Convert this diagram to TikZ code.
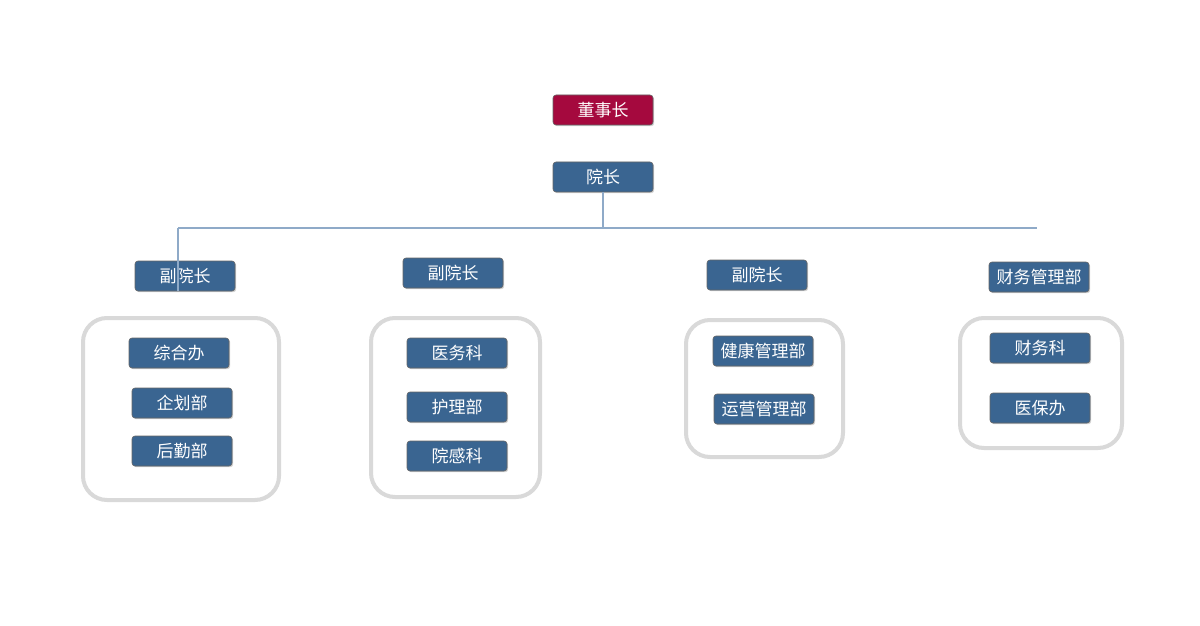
\documentclass[tikz,border=0pt]{standalone}
\usepackage{fontspec}
\setmainfont{Noto Sans CJK SC}
\usetikzlibrary{shadows}
\definecolor{bluebox}{HTML}{3A6591}
\definecolor{redbox}{HTML}{A5093E}
\definecolor{linec}{HTML}{8FAAC8}
\definecolor{grp}{HTML}{D9D9D9}
\tikzset{
  unit/.style={draw=black!60, line width=0.3pt, fill=bluebox, text=white, rounded corners=1.5pt,
    minimum width=50pt, minimum height=15pt, inner sep=0pt, font=\fontsize{8.5}{10}\selectfont,
    drop shadow={shadow xshift=0.6pt, shadow yshift=-0.6pt, opacity=0.35}},
  topunit/.style={unit, fill=redbox},
  grpbox/.style={draw=grp, line width=2pt, rounded corners=12pt, fill=white},
  conn/.style={draw=linec, line width=0.6pt}
}
\begin{document}
\begin{tikzpicture}[x=0.5pt,y=-0.5pt]
\useasboundingbox (0,0) rectangle (1200,626);
\fill[white] (0,0) rectangle (1200,626);
% group boxes
\node[grpbox, minimum width=98pt, minimum height=91pt] (g1) at (181,409) {};
\node[grpbox, minimum width=84.5pt, minimum height=89.5pt] (g2) at (455.5,407.5) {};
\node[grpbox, minimum width=78.5pt, minimum height=68.5pt] (g3) at (764.5,388.5) {};
\node[grpbox, minimum width=81pt, minimum height=65pt] (g4) at (1041,383) {};
% top
\node[topunit] (ch) at (603,110) {董事长};
\node[unit] (yz) at (603,177) {院长};
\node[unit] (f1) at (185,276) {副院长};
\node[unit] (f2) at (453,273) {副院长};
\node[unit] (f3) at (757,275) {副院长};
\node[unit] (f4) at (1039,277) {财务管理部};
% inner
\node[unit] (a1) at (179,353) {综合办};
\node[unit] (a2) at (182,403) {企划部};
\node[unit] (a3) at (182,451) {后勤部};
\node[unit] (b1) at (457,353) {医务科};
\node[unit] (b2) at (457,407) {护理部};
\node[unit] (b3) at (457,456) {院感科};
\node[unit] (c1) at (763,351) {健康管理部};
\node[unit] (c2) at (764,409) {运营管理部};
\node[unit] (d1) at (1040,348) {财务科};
\node[unit] (d2) at (1040,408) {医保办};
% connectors
\coordinate (h) at (603,228);
\begin{scope}[on background layer/.style={}]
\draw[conn] (yz.south) -- (h);
\draw[conn] (178,228) -- (1037,228);
\draw[conn] (178,228) -- (f1.south -| 178,0) ;
\end{scope}
\end{tikzpicture}
\end{document}
